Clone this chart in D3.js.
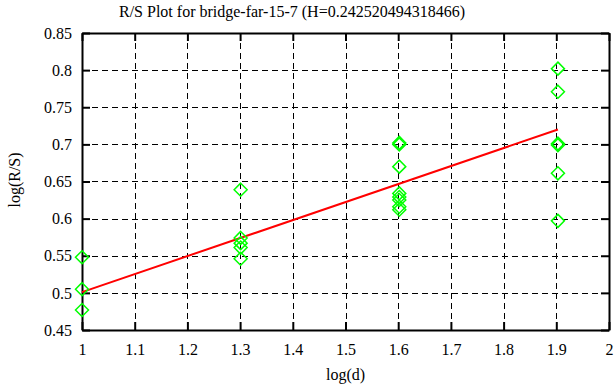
<!DOCTYPE html>
<html>
<head>
<meta charset="utf-8">
<script src="https://cdn.jsdelivr.net/npm/d3@7"></script>
<style>
  body { margin: 0; background: #fff; }
  svg text { font-family: "Times New Roman", "Liberation Serif", "DejaVu Serif", serif !important; font-size: 16px; fill: #000; }
</style>
</head>
<body>
<div id="chart"></div>
<script>
var width = 616;
var height = 387;
var margin = { top: 33, right: 7, bottom: 57, left: 82 };
var serif = "'Times New Roman', 'Liberation Serif', 'DejaVu Serif', serif";

// valori
var logD = [1, 1, 1,
            1.30103, 1.30103, 1.30103, 1.30103, 1.30103,
            1.60206, 1.60206, 1.60206, 1.60206, 1.60206, 1.60206, 1.60206, 1.60206,
            1.90309, 1.90309, 1.90309, 1.90309, 1.90309, 1.90309];
var logRS = [0.548, 0.505, 0.477,
             0.639, 0.574, 0.567, 0.561, 0.546,
             0.702, 0.700, 0.670, 0.634, 0.629, 0.625, 0.616, 0.612,
             0.802, 0.771, 0.701, 0.699, 0.661, 0.597];
var hurst = 0.242520494318466;
var intercept = 0.2585;
var fitX = [1, 1.90309];
var xTicks = [1, 1.1, 1.2, 1.3, 1.4, 1.5, 1.6, 1.7, 1.8, 1.9, 2];
var yTicks = [0.45, 0.5, 0.55, 0.6, 0.65, 0.7, 0.75, 0.8, 0.85];

var svg = d3.select("#chart")
            .append("svg")
            .attr("width", width)
            .attr("height", height)
            .attr("font-family", serif);

var x = d3.scaleLinear().domain([1, 2]).range([margin.left, width - margin.right]);
var y = d3.scaleLinear().domain([0.45, 0.85]).range([height - margin.bottom, margin.top]);

// griglia tratteggiata
var grid = svg.append("g")
              .attr("stroke", "#000")
              .attr("stroke-width", 1)
              .attr("stroke-dasharray", "6,4");

grid.selectAll("line.v")
    .data(xTicks.slice(1, -1))
    .enter().append("line")
    .attr("x1", function(d) { return Math.round(x(d)) + 0.5; })
    .attr("x2", function(d) { return Math.round(x(d)) + 0.5; })
    .attr("y1", y(0.85))
    .attr("y2", y(0.45));

grid.selectAll("line.h")
    .data(yTicks.slice(1, -1))
    .enter().append("line")
    .attr("y1", function(d) { return Math.round(y(d)) + 0.5; })
    .attr("y2", function(d) { return Math.round(y(d)) + 0.5; })
    .attr("x1", x(1))
    .attr("x2", x(2));

// assi con tacche interne su tutti i lati
svg.append("g")
   .attr("transform", "translate(0," + y(0.45) + ")")
   .call(d3.axisBottom(x).tickValues(xTicks).tickSizeInner(-8).tickSizeOuter(0).tickPadding(14)
           .tickFormat(function(d) { return d3.format("")(+d.toFixed(1)); }));

svg.append("g")
   .attr("transform", "translate(0," + y(0.85) + ")")
   .call(d3.axisTop(x).tickValues(xTicks).tickSizeInner(-8).tickSizeOuter(0).tickFormat(""));

svg.append("g")
   .attr("transform", "translate(" + x(1) + ",0)")
   .call(d3.axisLeft(y).tickValues(yTicks).tickSizeInner(-8).tickSizeOuter(0).tickPadding(10)
           .tickFormat(function(d) { return d3.format("")(+d.toFixed(2)); }));

svg.append("g")
   .attr("transform", "translate(" + x(2) + ",0)")
   .call(d3.axisRight(y).tickValues(yTicks).tickSizeInner(-8).tickSizeOuter(0).tickFormat(""));

svg.selectAll(".domain").attr("stroke", "#000").attr("stroke-width", 2);
svg.selectAll(".tick line").attr("stroke", "#000").attr("stroke-width", 2);
svg.selectAll("g").attr("font-family", serif).attr("font-size", 16);

// retta di regressione
svg.append("path")
   .datum(fitX)
   .attr("fill", "none")
   .attr("stroke", "#ff0000")
   .attr("stroke-width", 2)
   .attr("d", d3.line().x(function(d) { return x(d); })
                       .y(function(d) { return y(intercept + hurst * d); }));

// punti a rombo
svg.append("g")
   .selectAll("path")
   .data(d3.range(logD.length))
   .enter().append("path")
   .attr("transform", function(i) { return "translate(" + x(logD[i]) + "," + y(logRS[i]) + ")"; })
   .attr("d", "M0,-6.5L6.5,0L0,6.5L-6.5,0Z")
   .attr("fill", "none")
   .attr("stroke", "#00ff00")
   .attr("stroke-width", 1.5);

// titolo ed etichette
svg.append("text")
   .attr("x", 292)
   .attr("y", 17)
   .attr("text-anchor", "middle")
   .text("R/S Plot for bridge-far-15-7 (H=0.242520494318466)");

svg.append("text")
   .attr("x", x(1.5))
   .attr("y", 380)
   .attr("text-anchor", "middle")
   .text("log(d)");

svg.append("text")
   .attr("transform", "translate(20," + 180 + ") rotate(-90)")
   .attr("text-anchor", "middle")
   .text("log(R/S)");
</script>
</body>
</html>
